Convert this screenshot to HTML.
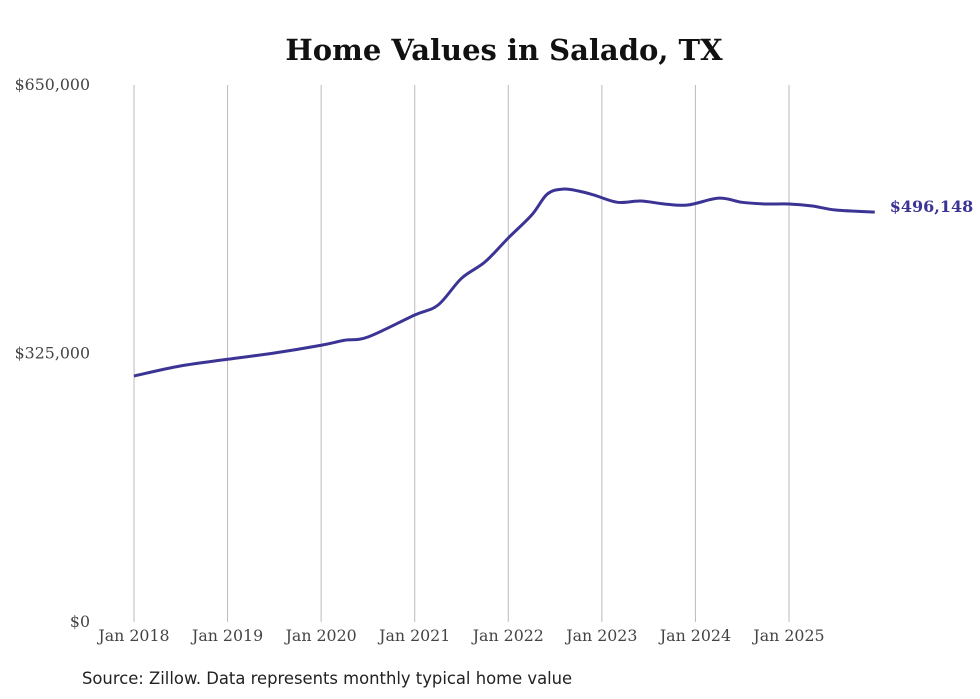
<!DOCTYPE html>
<html><head><meta charset="utf-8">
<style>
body{margin:0;background:#fff;width:980px;height:699px;overflow:hidden}
svg{display:block}
.t{font-family:"DejaVu Serif","Liberation Serif",serif}
</style></head>
<body>
<svg id="chart" width="980" height="699">
<text x="504" y="60" text-anchor="middle" class="t" font-size="29" font-weight="bold" fill="#111">Home Values in Salado, TX</text>
<g id="grid"></g>
<g id="yaxis"></g>
<g id="xaxis"></g>
<path id="line" fill="none" stroke="#3b3494" stroke-width="3"/>
<text id="endlabel" class="t" font-size="16" font-weight="bold" fill="#3b3494"></text>
<text x="82" y="684" font-family="DejaVu Sans, sans-serif" font-size="16.4" fill="#222">Source: Zillow. Data represents monthly typical home value</text>
</svg>
<script>
// months since Jan 2018
const months=[0,6,12,18,24,27,30,36,39,42,45,48,51,53,55,57,59,62,65,68,71,75,78,81,84,87,90,95];
const values=[297800,310000,318000,325600,335000,341000,345000,371600,383700,416000,435700,464800,492600,518000,524000,521700,516800,508000,509600,506000,504700,513000,508000,506000,506000,503500,498700,496148];
const yTicks=[0,325000,650000];
const yTickLabels=["$0","$325,000","$650,000"];
const xYears=[2018,2019,2020,2021,2022,2023,2024,2025];
const NS="http://www.w3.org/2000/svg";
const x0=134,pxPerMonth=(789-134)/84,yTop=85,yBot=622;
const X=m=>x0+m*pxPerMonth;
const Y=v=>yBot-(v/650000)*(yBot-yTop);
const grid=document.getElementById('grid'),xa=document.getElementById('xaxis'),ya=document.getElementById('yaxis');
xYears.forEach((yr,i)=>{
 const l=document.createElementNS(NS,'line');
 
 
 const x=X(i*12);
 l.setAttribute('x1',x);l.setAttribute('x2',x);l.setAttribute('y1',yTop);l.setAttribute('y2',yBot);
 l.setAttribute('stroke','#bbb');l.setAttribute('stroke-width','1');
 grid.appendChild(l);
 const t=document.createElementNS(NS,'text');
 
 
 t.setAttribute('x',x);t.setAttribute('y',641);t.setAttribute('text-anchor','middle');
 t.setAttribute('class','t');t.setAttribute('font-size','15.8');t.setAttribute('fill','#444');
 t.textContent='Jan '+yr;xa.appendChild(t);
});
yTicks.forEach((v,i)=>{
 const t=document.createElementNS(NS,'text');
 
 
 t.setAttribute('x',90);t.setAttribute('y',Y(v)+5);t.setAttribute('text-anchor','end');
 t.setAttribute('class','t');t.setAttribute('font-size','15.8');t.setAttribute('fill','#444');
 t.textContent=yTickLabels[i];ya.appendChild(t);
});
const pts=months.map((m,i)=>[X(m),Y(values[i])]);
let d='M'+pts[0][0]+','+pts[0][1];
for(let i=0;i<pts.length-1;i++){
 const p0=pts[i-1]||pts[i],p1=pts[i],p2=pts[i+1],p3=pts[i+2]||p2;
 const c1=[p1[0]+(p2[0]-p0[0])/6,p1[1]+(p2[1]-p0[1])/6];
 const c2=[p2[0]-(p3[0]-p1[0])/6,p2[1]-(p3[1]-p1[1])/6];
 d+=` C${c1[0]},${c1[1]} ${c2[0]},${c2[1]} ${p2[0]},${p2[1]}`;
}
document.getElementById('line').setAttribute('d',d);
const last=pts[pts.length-1],el=document.getElementById('endlabel');
el.setAttribute('x',last[0]+15);el.setAttribute('y',last[1]);
el.textContent='$'+values[values.length-1].toLocaleString('en-US');
</script>
</body></html>
